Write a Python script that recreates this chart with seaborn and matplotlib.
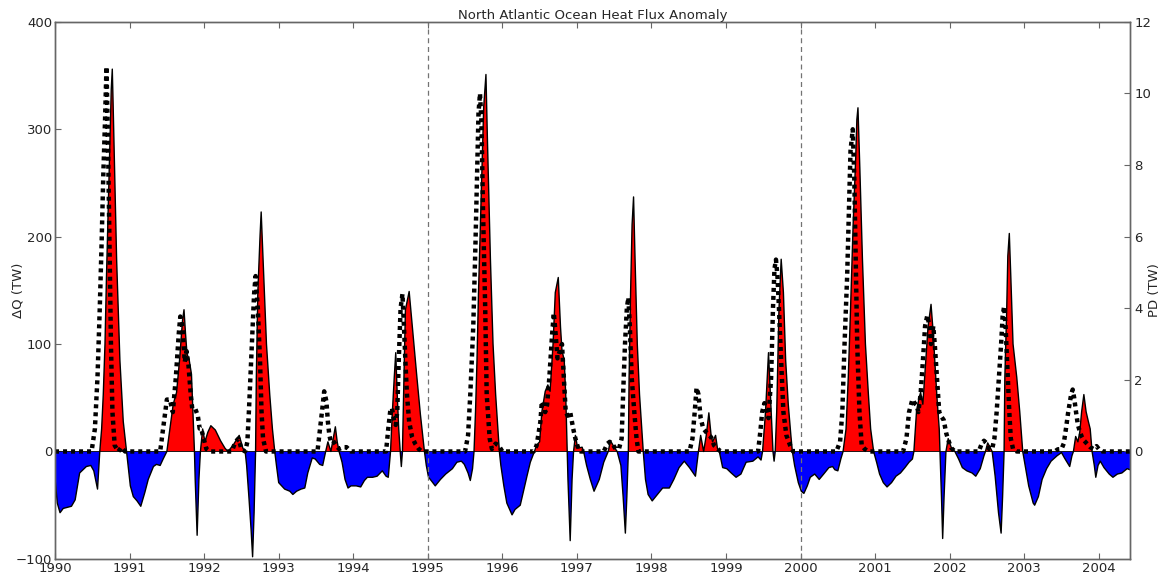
import numpy as np
import pandas as pd
import matplotlib
matplotlib.use("Agg")
import matplotlib.pyplot as plt
import seaborn as sns

# Ocean heat flux anomaly, Delta Q (TW), sampled at irregular decimal years
dq_year = [
    1990.00, 1990.03, 1990.067, 1990.11, 1990.22, 1990.27, 1990.33, 1990.42, 1990.48, 1990.52,
    1990.57, 1990.60, 1990.625, 1990.647, 1990.67, 1990.69, 1990.714, 1990.737, 1990.754, 1990.768,
    1990.78, 1990.826, 1990.87, 1990.915, 1990.96, 1990.98, 1991.01, 1991.05, 1991.10, 1991.15,
    1991.205, 1991.25, 1991.32, 1991.36, 1991.41, 1991.45, 1991.50, 1991.54, 1991.585, 1991.63,
    1991.67, 1991.71, 1991.73, 1991.75, 1991.77, 1991.80, 1991.83, 1991.85, 1991.87, 1991.88,
    1991.906, 1991.93, 1991.95, 1991.98, 1992.01, 1992.05, 1992.09, 1992.15, 1992.22, 1992.28,
    1992.32, 1992.39, 1992.47, 1992.52, 1992.55, 1992.57, 1992.60, 1992.63, 1992.65, 1992.67,
    1992.69, 1992.70, 1992.72, 1992.75, 1992.765, 1992.79, 1992.836, 1992.88, 1992.916, 1992.947,
    1992.97, 1993.00, 1993.04, 1993.08, 1993.15, 1993.19, 1993.24, 1993.30, 1993.35, 1993.39,
    1993.45, 1993.49, 1993.55, 1993.59, 1993.63, 1993.66, 1993.70, 1993.76, 1993.785, 1993.81,
    1993.85, 1993.89, 1993.93, 1993.97, 1994.04, 1994.10, 1994.15, 1994.19, 1994.26, 1994.32,
    1994.39, 1994.44, 1994.47, 1994.50, 1994.525, 1994.55, 1994.57, 1994.59, 1994.61, 1994.63,
    1994.645, 1994.66, 1994.68, 1994.70, 1994.75, 1994.80, 1994.85, 1994.90, 1994.955, 1994.98,
    1995.01, 1995.045, 1995.10, 1995.17, 1995.24, 1995.33, 1995.39, 1995.45, 1995.49, 1995.54,
    1995.57, 1995.60, 1995.62, 1995.64, 1995.66, 1995.68, 1995.705, 1995.73, 1995.75, 1995.78,
    1995.80, 1995.84, 1995.875, 1995.91, 1995.94, 1995.96, 1995.98, 1996.02, 1996.06, 1996.13,
    1996.17, 1996.24, 1996.29, 1996.33, 1996.375, 1996.43, 1996.46, 1996.50, 1996.53, 1996.575,
    1996.61, 1996.64, 1996.68, 1996.71, 1996.75, 1996.78, 1996.80, 1996.83, 1996.85, 1996.87,
    1996.88, 1996.91, 1996.935, 1996.955, 1996.98, 1997.01, 1997.07, 1997.09, 1997.13, 1997.18,
    1997.23, 1997.30, 1997.36, 1997.42, 1997.45, 1997.50, 1997.54, 1997.59, 1997.62, 1997.65,
    1997.67, 1997.69, 1997.70, 1997.72, 1997.74, 1997.76, 1997.78, 1997.81, 1997.84, 1997.87,
    1997.89, 1997.92, 1997.955, 1998.01, 1998.08, 1998.15, 1998.24, 1998.30, 1998.37, 1998.44,
    1998.51, 1998.59, 1998.63, 1998.66, 1998.70, 1998.735, 1998.77, 1998.80, 1998.82, 1998.86,
    1998.885, 1998.91, 1998.955, 1999.01, 1999.07, 1999.135, 1999.20, 1999.27, 1999.36, 1999.43,
    1999.47, 1999.49, 1999.53, 1999.57, 1999.605, 1999.63, 1999.645, 1999.66, 1999.68, 1999.71,
    1999.74, 1999.77, 1999.80, 1999.835, 1999.87, 1999.89, 1999.92, 1999.97, 2000.01, 2000.045,
    2000.09, 2000.13, 2000.19, 2000.25, 2000.31, 2000.38, 2000.43, 2000.46, 2000.50, 2000.54,
    2000.57, 2000.61, 2000.64, 2000.67, 2000.705, 2000.74, 2000.755, 2000.77, 2000.795, 2000.83,
    2000.87, 2000.91, 2000.94, 2000.98, 2001.02, 2001.06, 2001.11, 2001.16, 2001.22, 2001.28,
    2001.34, 2001.40, 2001.455, 2001.50, 2001.52, 2001.555, 2001.59, 2001.61, 2001.64, 2001.68,
    2001.71, 2001.75, 2001.78, 2001.80, 2001.83, 2001.86, 2001.87, 2001.89, 2001.906, 2001.925,
    2001.95, 2001.98, 2002.02, 2002.07, 2002.12, 2002.17, 2002.23, 2002.30, 2002.35, 2002.41,
    2002.46, 2002.48, 2002.51, 2002.54, 2002.57, 2002.61, 2002.655, 2002.69, 2002.71, 2002.73,
    2002.74, 2002.765, 2002.78, 2002.80, 2002.82, 2002.85, 2002.90, 2002.94, 2002.98, 2003.02,
    2003.06, 2003.12, 2003.14, 2003.19, 2003.24, 2003.30, 2003.36, 2003.44, 2003.50, 2003.54,
    2003.61, 2003.64, 2003.66, 2003.69, 2003.72, 2003.745, 2003.77, 2003.80, 2003.83, 2003.86,
    2003.885, 2003.91, 2003.94, 2003.96, 2003.99, 2004.02, 2004.07, 2004.14, 2004.19, 2004.25,
    2004.31, 2004.38, 2004.42,
]
dq_value = [
    -25, -48, -57, -53, -51, -45, -20, -14, -13, -18,
    -35, 0, 21, 53, 100, 163, 226, 290, 337, 356,
    321, 179, 85, 28, 0, -13, -32, -42, -46, -51,
    -38, -26, -14, -12, -13, -7, 0, 21, 44, 55,
    85, 122, 132, 110, 91, 85, 72, 37, 0, -26,
    -78, -26, 0, 21, 9, 18, 24, 20, 10, 3,
    0, 6, 15, 3, 0, -13, -42, -73, -98, -57,
    0, 69, 148, 201, 223, 179, 100, 53, 21, 0,
    -13, -29, -32, -35, -37, -40, -37, -35, -34, -20,
    -6, -7, -12, -13, 0, 9, 0, 23, 9, 0,
    -10, -26, -34, -32, -32, -33, -27, -24, -24, -23,
    -18, -23, -24, 0, 37, 69, 92, 53, 21, 0,
    -14, 0, 69, 132, 149, 110, 72, 35, 0, -13,
    -24, -27, -32, -26, -21, -16, -10, -9, -12, -20,
    -27, -16, 0, 37, 85, 148, 211, 274, 321, 351,
    290, 179, 100, 53, 21, 0, -13, -32, -48, -59,
    -54, -50, -35, -23, -10, 0, 6, 9, 37, 56,
    62, 56, 100, 148, 162, 116, 94, 85, 53, 0,
    -26, -83, -26, 0, 15, 3, 4, 0, -13, -26,
    -37, -26, -10, 0, 10, 4, 0, -13, -42, -76,
    -42, 0, 69, 148, 211, 237, 179, 100, 53, 21,
    0, -26, -40, -46, -40, -34, -34, -26, -15, -9,
    -15, -23, 0, 15, 0, 15, 36, 15, 9, 15,
    3, 0, -15, -16, -20, -24, -21, -10, -9, -5,
    -8, 0, 37, 92, 37, 0, -9, 0, 37, 132,
    179, 148, 85, 44, 15, 0, -13, -29, -37, -39,
    -32, -24, -21, -26, -21, -15, -14, -17, -18, -7,
    0, 21, 69, 132, 211, 274, 309, 320, 264, 179,
    100, 53, 21, 0, -10, -21, -29, -33, -29, -23,
    -20, -15, -10, -7, 0, 37, 50, 55, 44, 85,
    116, 137, 110, 85, 50, 21, 0, -42, -81, -42,
    0, 12, 4, 0, -7, -15, -18, -20, -23, -16,
    -4, 0, 8, 4, 0, -23, -57, -76, -42, 0,
    69, 132, 182, 203, 163, 100, 69, 37, 0, -16,
    -32, -48, -50, -42, -26, -16, -9, -4, -1, -6,
    -14, -4, 0, 14, 9, 18, 37, 53, 37, 28,
    21, 0, -13, -24, -13, -9, -15, -21, -24, -21,
    -20, -16, -17,
]

# PD (TW) on the secondary axis
pd_year = [
    1990.00, 1990.49, 1990.535, 1990.57, 1990.60, 1990.625, 1990.647, 1990.67, 1990.69, 1990.71,
    1990.73, 1990.75, 1990.77, 1990.80, 1990.85, 1990.89, 1990.94, 1991.41, 1991.45, 1991.50,
    1991.54, 1991.58, 1991.62, 1991.66, 1991.68, 1991.71, 1991.74, 1991.765, 1991.79, 1991.82,
    1991.84, 1991.88, 1991.915, 1991.94, 1991.96, 1991.995, 1992.03, 1992.08, 1992.37, 1992.42,
    1992.46, 1992.50, 1992.55, 1992.58, 1992.60, 1992.63, 1992.65, 1992.67, 1992.69, 1992.72,
    1992.75, 1992.77, 1992.79, 1992.83, 1993.52, 1993.555, 1993.58, 1993.61, 1993.64, 1993.66,
    1993.68, 1993.70, 1993.73, 1993.77, 1993.81, 1993.86, 1993.91, 1993.97, 1994.44, 1994.47,
    1994.50, 1994.52, 1994.55, 1994.57, 1994.59, 1994.61, 1994.635, 1994.66, 1994.68, 1994.70,
    1994.72, 1994.75, 1994.79, 1994.83, 1994.88, 1994.92, 1995.50, 1995.54, 1995.57, 1995.61,
    1995.64, 1995.66, 1995.68, 1995.70, 1995.72, 1995.74, 1995.77, 1995.79, 1995.83, 1995.86,
    1995.91, 1995.95, 1996.00, 1996.42, 1996.46, 1996.51, 1996.53, 1996.55, 1996.575, 1996.60,
    1996.63, 1996.665, 1996.69, 1996.71, 1996.74, 1996.77, 1996.80, 1996.82, 1996.85, 1996.875,
    1996.91, 1996.95, 1996.98, 1997.02, 1997.05, 1997.36, 1997.41, 1997.44, 1997.48, 1997.52,
    1997.565, 1997.60, 1997.62, 1997.645, 1997.67, 1997.69, 1997.71, 1997.735, 1997.77, 1997.80,
    1997.825, 1998.51, 1998.55, 1998.58, 1998.605, 1998.63, 1998.66, 1998.695, 1998.73, 1998.77,
    1998.80, 1998.84, 1998.89, 1998.93, 1999.43, 1999.46, 1999.485, 1999.515, 1999.545, 1999.57,
    1999.605, 1999.63, 1999.65, 1999.67, 1999.69, 1999.71, 1999.74, 1999.77, 1999.81, 1999.86,
    1999.90, 2000.48, 2000.53, 2000.56, 2000.59, 2000.625, 2000.65, 2000.67, 2000.70, 2000.72,
    2000.74, 2000.76, 2000.79, 2000.82, 2000.86, 2000.91, 2001.375, 2001.42, 2001.455, 2001.50,
    2001.53, 2001.555, 2001.58, 2001.61, 2001.64, 2001.67, 2001.70, 2001.73, 2001.75, 2001.78,
    2001.80, 2001.83, 2001.86, 2001.89, 2001.92, 2001.955, 2001.99, 2002.02, 2002.07, 2002.39,
    2002.43, 2002.46, 2002.50, 2002.53, 2002.57, 2002.60, 2002.63, 2002.66, 2002.69, 2002.71,
    2002.73, 2002.75, 2002.78, 2002.80, 2002.82, 2002.85, 2002.90, 2003.41, 2003.45, 2003.50,
    2003.53, 2003.56, 2003.59, 2003.63, 2003.65, 2003.67, 2003.695, 2003.72, 2003.74, 2003.77,
    2003.805, 2003.84, 2003.885, 2003.93, 2003.97, 2004.00, 2004.05, 2004.42,
]
pd_value = [
    0, 0, 0.64, 2.1, 4.0, 5.85, 7.7, 9.2, 10.75, 8.7,
    5.85, 3.0, 1.1, 0.17, 0, 0.12, 0, 0, 0.64, 1.45,
    1.45, 1.1, 2.06, 3.3, 3.77, 3.48, 2.5, 2.8, 2.4, 1.6,
    1.2, 1.2, 1.0, 0.64, 0.64, 0.36, 0.07, 0, 0, 0.27,
    0.36, 0.07, 0, 0.27, 1.1, 2.5, 3.5, 4.4, 4.9, 4.0,
    2.5, 1.1, 0.36, 0, 0, 0.64, 1.1, 1.68, 1.4, 0.83,
    0.45, 0.27, 0.3, 0.17, 0.07, 0.12, 0.12, 0, 0, 0.64,
    1.2, 1.2, 0.83, 0.74, 1.1, 2.5, 4.0, 4.4, 3.5, 2.5,
    1.6, 0.83, 0.4, 0.22, 0.07, 0, 0, 0.45, 1.6, 3.5,
    5.85, 7.7, 9.45, 10.0, 9.2, 6.8, 4.0, 1.6, 0.36, 0.07,
    0.22, 0.17, 0, 0, 0.17, 0.83, 1.4, 1.3, 1.1, 1.3,
    2.06, 3.2, 3.87, 3.4, 2.6, 2.8, 3.0, 2.25, 1.1, 1.0,
    1.1, 0.64, 0.36, 0.07, 0, 0, 0.22, 0.27, 0.2, 0.07,
    0.08, 0.36, 1.6, 3.0, 4.0, 4.3, 3.5, 2.06, 1.1, 0.36,
    0, 0, 0.36, 1.1, 1.78, 1.6, 0.93, 0.64, 0.55, 0.45,
    0.4, 0.17, 0.07, 0, 0, 0.55, 1.1, 1.35, 1.15, 0.93,
    2.06, 4.0, 5.1, 5.36, 4.9, 4.0, 2.5, 1.1, 0.45, 0.17,
    0, 0, 0.27, 1.1, 3.0, 4.9, 6.8, 8.4, 9.0, 7.7,
    5.4, 3.0, 1.1, 0.17, 0.07, 0, 0, 0.36, 1.1, 1.45,
    1.35, 1.3, 1.1, 1.6, 2.5, 3.5, 3.8, 3.5, 3.0, 3.5,
    3.0, 2.06, 1.1, 0.97, 0.88, 0.5, 0.27, 0.1, 0, 0,
    0.22, 0.3, 0.22, 0.07, 0.07, 0.36, 1.1, 2.06, 3.0, 3.77,
    4.05, 3.5, 2.06, 1.1, 0.36, 0.07, 0, 0, 0.06, 0.07,
    0.22, 0.64, 1.1, 1.6, 1.73, 1.5, 1.1, 0.74, 0.6, 0.42,
    0.3, 0.22, 0.12, 0.07, 0.15, 0.07, 0, 0,
]

year_ticks = list(range(1990, 2005))
dq_ticks = [-100, 0, 100, 200, 300, 400]
pd_ticks = [0, 2, 4, 6, 8, 10, 12]

flux = pd.DataFrame({"year": dq_year, "dq": dq_value})
pdf = pd.DataFrame({"year": pd_year, "pd": pd_value})

sns.set_style("white")
plt.rcParams["font.family"] = ["DejaVu Sans"]
plt.rcParams["font.size"] = 9.5

fig = plt.figure(figsize=(11.66, 5.75), dpi=100)
ax = fig.add_axes([0.0472, 0.028, 0.922, 0.934])

x = flux["year"].to_numpy()
y = flux["dq"].to_numpy()
ax.fill_between(x, 0, y, where=y >= 0, interpolate=True, color="#ff0000", linewidth=0)
ax.fill_between(x, 0, y, where=y <= 0, interpolate=True, color="#0000ff", linewidth=0)
sns.lineplot(data=flux, x="year", y="dq", ax=ax, color="black", linewidth=1.0,
             estimator=None, sort=False)
ax.axhline(0, color="black", linewidth=0.6)

for yr in (1995, 2000):
    ax.axvline(yr, color="0.45", linestyle=(0, (4, 3)), linewidth=0.9)

ax.set_xlim(1990, 2004.42)
ax.set_ylim(-100, 400)
ax.set_xticks(year_ticks)
ax.set_xticklabels([str(t) for t in year_ticks])
ax.set_yticks(dq_ticks)
ax.set_xlabel("")
ax.set_ylabel("\u0394Q (TW)", fontsize=9.5)
ax.set_title("North Atlantic Ocean Heat Flux Anomaly", fontsize=9.5, pad=2)

ax2 = ax.twinx()
sns.lineplot(data=pdf, x="year", y="pd", ax=ax2, color="black", linewidth=3.2,
             linestyle=(0, (0.9, 0.9)), estimator=None, sort=False)
ax2.set_ylim(-3, 12)
ax2.set_yticks(pd_ticks)
ax2.set_ylabel("PD (TW)", fontsize=9.5)
ax2.set_xlim(1990, 2004.42)

for a in (ax, ax2):
    for s in a.spines.values():
        s.set_color("0.4")
        s.set_linewidth(1.0)
ax.tick_params(axis="both", direction="in", length=4, width=0.8, color="0.4",
               top=True, bottom=True, left=True, right=False, labelsize=9.5, pad=2)
ax2.tick_params(axis="y", direction="in", length=4, width=0.8, color="0.4",
                right=True, left=False, labelsize=9.5, pad=3)
ax.yaxis.set_label_coords(-0.028, 0.5)
ax2.yaxis.set_label_coords(1.017, 0.5)

fig.savefig("out.png", dpi=100)
